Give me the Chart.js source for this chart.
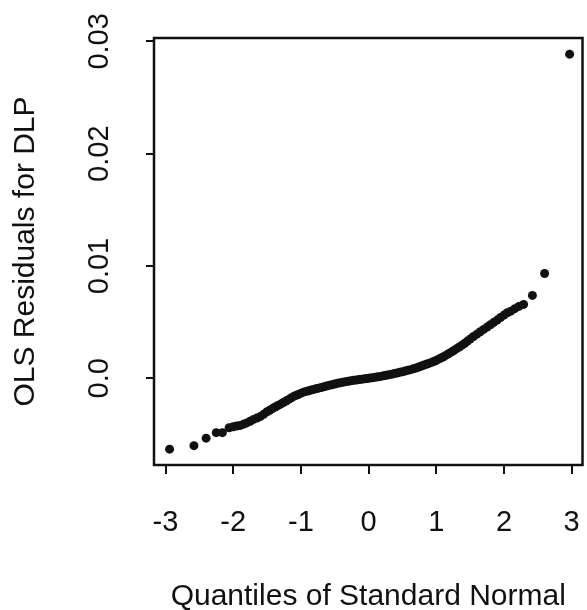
<!DOCTYPE html>
<html>
<head>
<meta charset="utf-8">
<script src="https://cdn.jsdelivr.net/npm/chart.js@4.4.1/dist/chart.umd.min.js"></script>
<style>
  html, body { margin: 0; padding: 0; background: #fff; }
  #wrap { width: 587px; height: 610px; position: relative; }
</style>
</head>
<body>
<div id="wrap"><canvas id="c" width="587" height="610"></canvas></div>
<script>
// Quantiles of standard normal (x)
const normalQuantiles = [
  -2.94, -2.58, -2.40, -2.25, -2.16,
  -2.06, -2.00, -1.95, -1.90, -1.85, -1.80, -1.75, -1.70, -1.65, -1.60, -1.55, -1.50,
  -1.46, -1.42, -1.38, -1.34, -1.30, -1.26, -1.22, -1.18, -1.14, -1.10, -1.06, -1.02,
  -0.98, -0.94, -0.90, -0.86, -0.82, -0.78, -0.74, -0.70, -0.66, -0.62, -0.58, -0.54,
  -0.50, -0.46, -0.42, -0.38, -0.34, -0.30, -0.26, -0.22, -0.18, -0.14, -0.10, -0.06, -0.02,
  0.02, 0.06, 0.10, 0.14, 0.18, 0.22, 0.26, 0.30, 0.34, 0.38, 0.42, 0.46, 0.50,
  0.54, 0.58, 0.62, 0.66, 0.70, 0.74, 0.78, 0.82, 0.86, 0.90, 0.94, 0.98,
  1.02, 1.06, 1.10, 1.14, 1.18, 1.22, 1.26, 1.30, 1.34, 1.38, 1.42, 1.46, 1.50,
  1.55, 1.60, 1.65, 1.70, 1.75, 1.80, 1.85, 1.90, 1.95, 2.00, 2.05, 2.10, 2.16, 2.22, 2.29,
  2.42, 2.60, 2.97
];
// OLS residuals for DLP (y), in the same order
const olsResiduals = [
  -0.00631, -0.00600, -0.00533, -0.00484, -0.00484,
  -0.00440, -0.00431, -0.00425, -0.00420, -0.00410, -0.00397, -0.00382, -0.00366, -0.00354, -0.00341, -0.00321, -0.00298,
  -0.00284, -0.00270, -0.00256, -0.00243, -0.00230, -0.00216, -0.00202, -0.00188, -0.00173, -0.00159, -0.00149, -0.00139,
  -0.00128, -0.00119, -0.00113, -0.00106, -0.00100, -0.00094, -0.00088, -0.00082, -0.00076, -0.00069, -0.00063, -0.00057,
  -0.00051, -0.00045, -0.00040, -0.00035, -0.00030, -0.00026, -0.00022, -0.00018, -0.00015, -0.00011, -0.00008, -0.00005, -0.00002,
  0.00002, 0.00005, 0.00009, 0.00013, 0.00017, 0.00022, 0.00027, 0.00032, 0.00036, 0.00042, 0.00047, 0.00053, 0.00058,
  0.00064, 0.00071, 0.00077, 0.00084, 0.00092, 0.00101, 0.00110, 0.00118, 0.00127, 0.00135, 0.00144, 0.00154,
  0.00166, 0.00178, 0.00190, 0.00204, 0.00219, 0.00233, 0.00248, 0.00264, 0.00279, 0.00295, 0.00312, 0.00331, 0.00349,
  0.00372, 0.00393, 0.00414, 0.00435, 0.00456, 0.00477, 0.00498, 0.00518, 0.00541, 0.00563, 0.00584, 0.00598, 0.00620, 0.00640, 0.00658,
  0.00738, 0.00933, 0.02886
];
const xTickValues = [-3, -2, -1, 0, 1, 2, 3];
const xTickLabels = ['-3', '-2', '-1', '0', '1', '2', '3'];
const yTickValues = [0, 0.01, 0.02, 0.03];
const yTickLabels = ['0.0', '0.01', '0.02', '0.03'];
const xTitle = 'Quantiles of Standard Normal';
const yTitle = 'OLS Residuals for DLP';

const FONT = 'Liberation Sans, Arial, Helvetica, sans-serif';
const INK = '#111';

const points = normalQuantiles.map((x, i) => ({ x: x, y: olsResiduals[i] }));

const boxAndLabels = {
  id: 'boxAndLabels',
  afterDraw(chart) {
    const { ctx, chartArea: a } = chart;
    const ys = chart.scales.y;
    ctx.save();
    ctx.strokeStyle = INK;
    ctx.lineWidth = 2.5;
    ctx.strokeRect(a.left, a.top, a.right - a.left, a.bottom - a.top);
    ctx.fillStyle = INK;
    ctx.font = '29px ' + FONT;
    ctx.textAlign = 'center';
    ctx.textBaseline = 'middle';
    yTickValues.forEach((v, i) => {
      const py = ys.getPixelForValue(v);
      ctx.save();
      ctx.translate(100, py);
      ctx.rotate(-Math.PI / 2);
      ctx.fillText(yTickLabels[i], 0, 0);
      ctx.restore();
    });
    ctx.restore();
  }
};

new Chart(document.getElementById('c'), {
  type: 'scatter',
  data: {
    datasets: [{
      data: points,
      pointRadius: 4.5,
      pointHoverRadius: 4.5,
      backgroundColor: INK,
      borderWidth: 0
    }]
  },
  options: {
    responsive: false,
    animation: false,
    devicePixelRatio: 1,
    layout: { padding: { top: 38, right: 3, left: 0, bottom: 0 } },
    plugins: { legend: { display: false }, tooltip: { enabled: false } },
    scales: {
      x: {
        type: 'linear',
        min: -3.17,
        max: 3.16,
        afterBuildTicks: s => { s.ticks = xTickValues.map(v => ({ value: v })); },
        afterFit: s => { s.height = 145; s.paddingLeft = 0; s.paddingRight = 0; },
        border: { display: false },
        grid: { drawOnChartArea: false, drawTicks: true, tickLength: 9, color: INK, lineWidth: 2 },
        ticks: {
          color: INK,
          font: { family: FONT, size: 29 },
          padding: 32,
          maxRotation: 0,
          autoSkip: false,
          callback: (v) => xTickLabels[xTickValues.indexOf(v)]
        },
        title: {
          display: true,
          text: xTitle,
          color: INK,
          font: { family: FONT, size: 30, lineHeight: 0.9 },
          padding: { top: 0, bottom: 0 }
        }
      },
      y: {
        type: 'linear',
        min: -0.00772,
        max: 0.0303,
        afterBuildTicks: s => { s.ticks = yTickValues.map(v => ({ value: v })); },
        afterFit: s => { s.width = 154; s.paddingTop = 0; s.paddingBottom = 0; },
        border: { display: false },
        grid: { drawOnChartArea: false, drawTicks: true, tickLength: 8, color: INK, lineWidth: 2 },
        ticks: { display: false },
        title: {
          display: true,
          text: yTitle,
          color: INK,
          font: { family: FONT, size: 30, lineHeight: 0.9 },
          padding: { top: 12, bottom: 0 }
        }
      }
    }
  },
  plugins: [boxAndLabels]
});
</script>
</body>
</html>
